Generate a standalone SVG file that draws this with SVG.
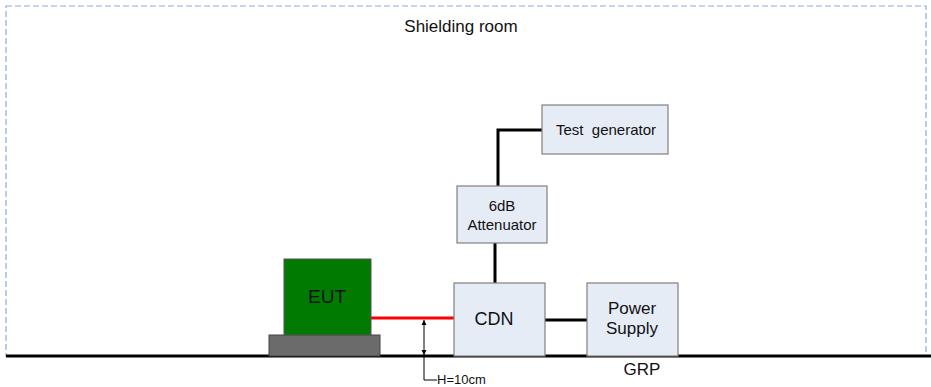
<svg xmlns="http://www.w3.org/2000/svg" width="931" height="387" viewBox="0 0 931 387">
<style>
.box{fill:#e6ecf6;stroke:#808080;stroke-width:1.2}
.t{font-family:"Liberation Sans",Arial,sans-serif;fill:#111}
.w{stroke:#000;stroke-width:3;fill:none}
</style>
<defs>
<marker id="ah" viewBox="0 0 10 10" refX="10" refY="5" markerWidth="5" markerHeight="6" orient="auto-start-reverse"><path d="M0,0 L10,5 L0,10 z" fill="#000"/></marker>
</defs>
<rect width="931" height="387" fill="#fff"/>
<g id="room">
<rect x="6" y="6" width="920" height="350" fill="none" stroke="#8eaadb" stroke-width="1.2" stroke-dasharray="6,3"/>
<text class="t" x="461" y="32" font-size="17" text-anchor="middle">Shielding room</text>
</g>
<g id="connectors">
<line x1="371" y1="318" x2="455" y2="318" stroke="#ff0000" stroke-width="3"/>
<polyline class="w" points="498,186 498,130 542,130"/>
<line class="w" x1="495" y1="243" x2="495" y2="283"/>
<line class="w" x1="545" y1="320" x2="587" y2="320"/>
<line x1="424" y1="320" x2="424" y2="355" stroke="#000" stroke-width="1" marker-start="url(#ah)" marker-end="url(#ah)"/>
<polyline points="424,356 424,380 437,380" fill="none" stroke="#000" stroke-width="1"/>
</g>
<g id="ground">
<line x1="6" y1="356" x2="931" y2="356" stroke="#000" stroke-width="3"/>
<text class="t" x="642" y="375" font-size="17" text-anchor="middle">GRP</text>
</g>
<g id="base">
<rect x="269" y="335" width="111" height="21" fill="#6b6b6b" stroke="#444" stroke-width="1"/>
</g>
<g id="eut">
<rect x="284" y="259" width="87" height="76" fill="#007a00" stroke="#555" stroke-width="1"/>
<text class="t" x="327" y="303" font-size="19" text-anchor="middle">EUT</text>
</g>
<g id="cdn">
<rect class="box" x="454" y="283" width="91" height="73"/>
<text class="t" x="494" y="325" font-size="18" text-anchor="middle">CDN</text>
</g>
<g id="power">
<rect class="box" x="587" y="283" width="91" height="73"/>
<text class="t" x="632" y="314" font-size="17" text-anchor="middle">Power</text>
<text class="t" x="632" y="334" font-size="17" text-anchor="middle">Supply</text>
</g>
<g id="attenuator">
<rect class="box" x="457" y="186" width="90" height="57"/>
<text class="t" x="502" y="211" font-size="15" text-anchor="middle">6dB</text>
<text class="t" x="502" y="230" font-size="15" text-anchor="middle">Attenuator</text>
</g>
<g id="generator">
<rect class="box" x="542" y="105" width="126" height="49"/>
<text class="t" x="606" y="135" font-size="15" text-anchor="middle" xml:space="preserve">Test  generator</text>
</g>
<text class="t" x="437" y="384" font-size="13">H=10cm</text>
</svg>
